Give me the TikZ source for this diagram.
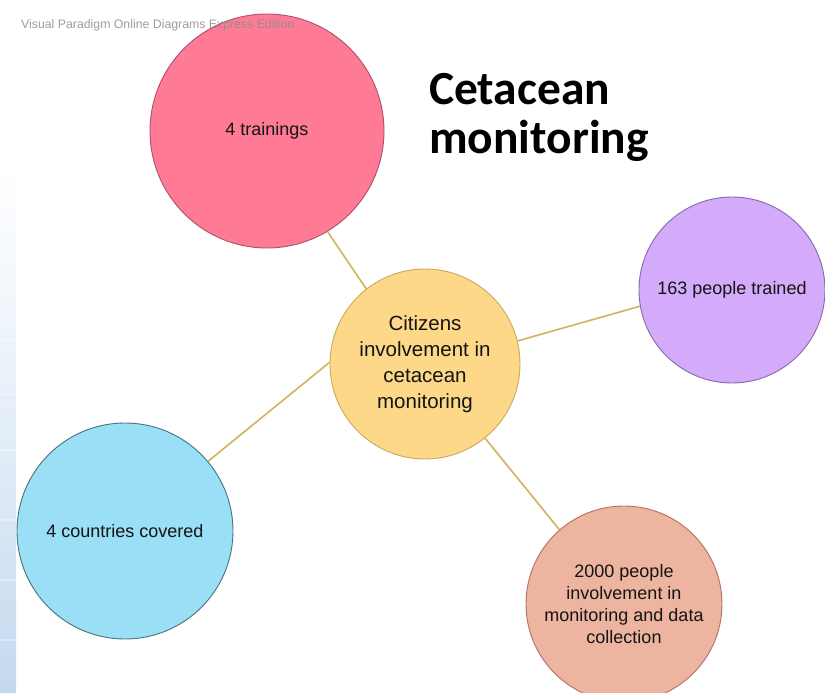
\documentclass[tikz,border=0pt]{standalone}
\usepackage{fontspec}
\setmainfont{Liberation Sans}
\newfontfamily\titlefont{Carlito}
\definecolor{pinkf}{RGB}{255,123,149}
\definecolor{pinkd}{RGB}{170,80,105}
\definecolor{purf}{RGB}{212,170,250}
\definecolor{purd}{RGB}{135,105,170}
\definecolor{yelf}{RGB}{253,216,136}
\definecolor{yeld}{RGB}{205,168,90}
\definecolor{bluf}{RGB}{154,223,245}
\definecolor{blud}{RGB}{70,115,130}
\definecolor{salf}{RGB}{237,180,160}
\definecolor{sald}{RGB}{175,115,95}
\definecolor{linkc}{RGB}{210,178,90}
\definecolor{txt}{RGB}{20,20,20}
\definecolor{stripa}{RGB}{228,238,248}
\definecolor{stripb}{RGB}{196,216,238}
\tikzset{
  bub/.style={circle, inner sep=0pt, line width=0.9pt, align=center, text=txt,
    font=\fontsize{18}{22}\selectfont},
  hub/.style={bub, font=\fontsize{20.5}{26}\selectfont},
  link/.style={draw=linkc, line width=1.6pt},
}
\begin{document}
\begin{tikzpicture}[x=1pt, y=-1pt]
\useasboundingbox (0,0) rectangle (825,693);
\fill[white] (0,0) rectangle (825,693);
% left background strip
\shade[top color=white, bottom color=stripb, middle color=stripa] (0,165) rectangle (16,693);
\foreach \yy in {285,340,395,450,520,580,640}
  \draw[white, opacity=0.3, line width=1.5pt] (0,\yy) -- (16,\yy);
% nodes
\node[hub, fill=yelf, draw=yeld, minimum size=190pt] (hub) at (425,364)
  {Citizens\\involvement in\\cetacean\\monitoring};
\node[bub, fill=pinkf, draw=pinkd, minimum size=234pt] (train) at (267,131) {4 trainings};
\node[bub, fill=purf, draw=purd, minimum size=186pt] (people) at (732,290) {163 people trained};
\node[bub, fill=bluf, draw=blud, minimum size=216pt] (country) at (125,531) {4 countries covered};
\node[bub, fill=salf, draw=sald, minimum size=196pt] (collect) at (624,604)
  {2000 people\\involvement in\\monitoring and data\\collection};
% connectors
\draw[link] (hub.128) -- (train.-59);
\draw[link] (hub.14) -- (people.190);
\draw[link] (hub.179) -- (country.40);
\draw[link] (hub.-51) -- (collect.131);
% title
\node[anchor=north west, inner sep=0pt, align=left,
  font=\titlefont\bfseries\fontsize{47.5}{49}\selectfont] (title) at (429,73)
  {Cetacean\\monitoring};
% watermark
\node[anchor=west, inner sep=0pt, text=black!45, opacity=0.85,
  font=\fontsize{12.3}{14}\selectfont] (wm) at (21,25)
  {Visual Paradigm Online Diagrams Express Edition};
\end{tikzpicture}
\end{document}
